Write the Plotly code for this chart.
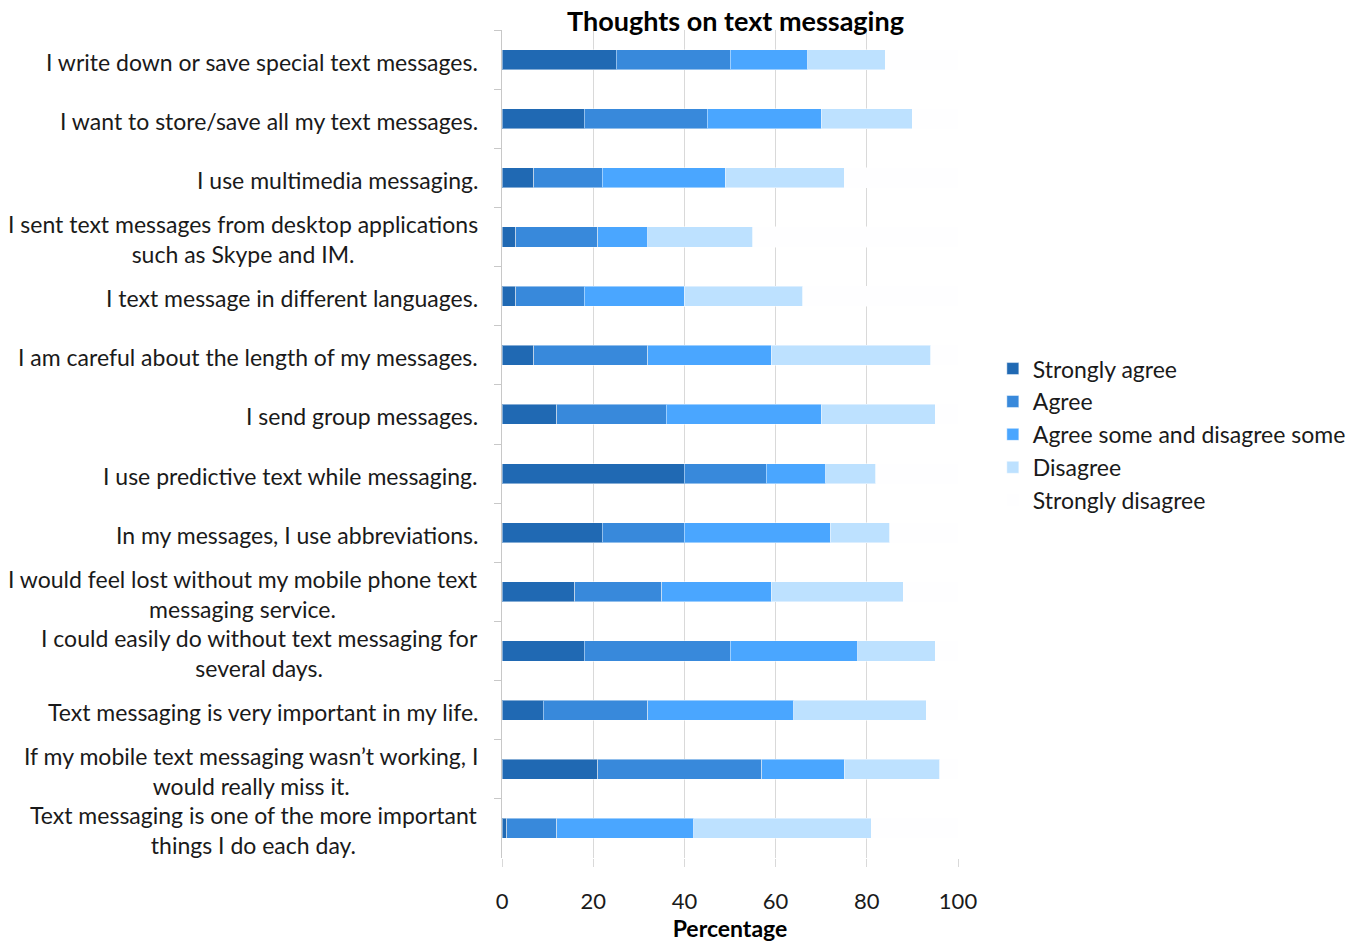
import plotly.graph_objects as go

# Survey statements, listed top to bottom
statements = [
    "I write down or save special text messages.",
    "I want to store/save all my text messages.",
    "I use multimedia messaging.",
    "I sent text messages from desktop applications<br>such as Skype and IM.",
    "I text message in different languages.",
    "I am careful about the length of my messages.",
    "I send group messages.",
    "I use predictive text while messaging.",
    "In my messages, I use abbreviations.",
    "I would feel lost without my mobile phone text<br>messaging service.",
    "I could easily do without text messaging for<br>several days.",
    "Text messaging is very important in my life.",
    "If my mobile text messaging wasn\u2019t working, I<br>would really miss it.",
    "Text messaging is one of the more important<br>things I do each day.",
]

# Percentage of respondents per answer
strongly_agree = [25, 18, 7, 3, 3, 7, 12, 40, 22, 16, 18, 9, 21, 1]
agree = [25, 27, 15, 18, 15, 25, 24, 18, 18, 19, 32, 23, 36, 11]
agree_some = [17, 25, 27, 11, 22, 27, 34, 13, 32, 24, 28, 32, 18, 30]
disagree = [17, 20, 26, 23, 26, 35, 25, 11, 13, 29, 17, 29, 21, 39]
strongly_disagree = [16, 10, 25, 45, 34, 6, 5, 18, 15, 12, 5, 7, 4, 19]

series = [
    ("Strongly agree", strongly_agree, "#2069B3"),
    ("Agree", agree, "#3889DB"),
    ("Agree some and disagree some", agree_some, "#4AA6FF"),
    ("Disagree", disagree, "#BDE1FF"),
    ("Strongly disagree", strongly_disagree, "#FEFEFF"),
]

FONT = "Lato, 'Open Sans', sans-serif"
TEXT = "#1a1a1a"

fig = go.Figure()
for name, vals, color in series:
    fig.add_trace(go.Bar(
        name=name,
        y=statements,
        x=vals,
        orientation="h",
        marker=dict(color=color, line=dict(color="rgba(255,255,255,0.45)", width=1)),
    ))

# Category labels, centered line by line
for s in statements:
    fig.add_annotation(
        x=0, xref="paper", xshift=-22,
        y=s, yref="y", yshift=-2,
        text=s, showarrow=False,
        xanchor="right", yanchor="middle", align="center",
        font=dict(family=FONT, size=23, color=TEXT),
    )

fig.update_layout(
    width=1363, height=943,
    barmode="stack",
    bargap=0.66,
    plot_bgcolor="white",
    paper_bgcolor="white",
    margin=dict(l=502, r=403, t=30, b=78),
    font=dict(family=FONT, size=23, color=TEXT),
    title=dict(
        text="<b>Thoughts on text messaging</b>",
        x=735.5 / 1363, xanchor="center",
        y=1 - 22 / 943, yanchor="middle",
        font=dict(family=FONT, size=27, color="#000000"),
    ),
    legend=dict(
        x=1.0764, xanchor="left",
        y=0.617, yanchor="top",
        traceorder="normal",
        font=dict(family=FONT, size=23, color=TEXT),
        itemwidth=30,
        tracegroupgap=0,
        bgcolor="rgba(0,0,0,0)",
    ),
    showlegend=True,
)

fig.update_xaxes(
    range=[0, 100],
    tickvals=[0, 20, 40, 60, 80, 100],
    showgrid=True, gridcolor="#D9D9D9", gridwidth=1,
    zeroline=False,
    showline=False,
    ticks="outside", ticklen=8, tickcolor="#D9D9D9",
    ticklabelstandoff=16,
    tickfont=dict(family=FONT, size=22, color=TEXT),
    title=dict(text="<b>Percentage</b>", standoff=0,
               font=dict(family=FONT, size=23, color="#000000")),
    fixedrange=True,
)

fig.update_yaxes(
    autorange="reversed",
    showticklabels=False,
    showline=True, linecolor="#C8C8C8", linewidth=1,
    ticks="outside", tickson="boundaries", ticklen=7, tickcolor="#C8C8C8",
    showgrid=False,
)

fig.write_html("out.html")
